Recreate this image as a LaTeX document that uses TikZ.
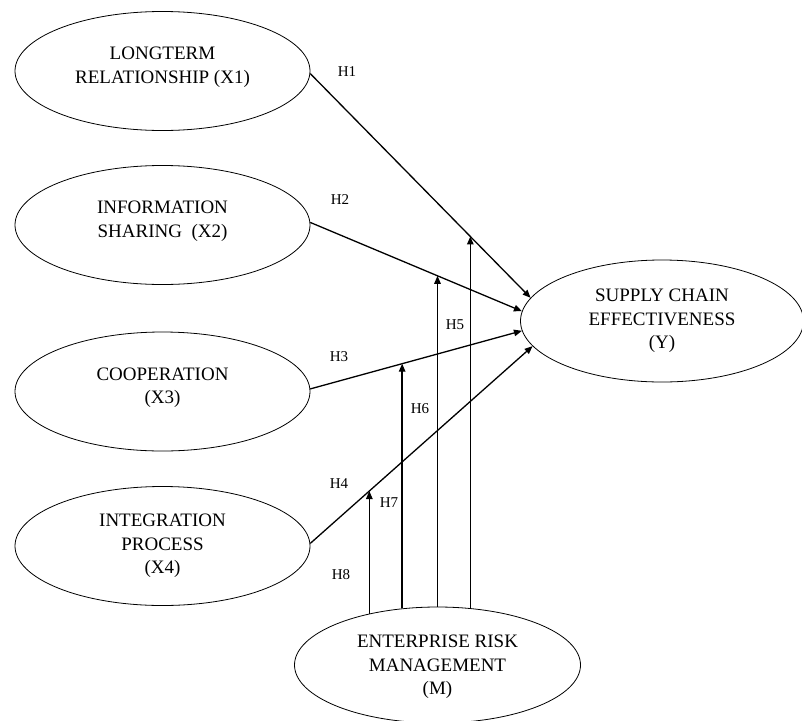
\documentclass[tikz,border=0pt]{standalone}
\usepackage{fontspec}
\setmainfont{Liberation Serif}
\usetikzlibrary{shapes.geometric,arrows.meta,intersections}
\begin{document}
\begin{tikzpicture}[x=1pt,y=-1pt,
  latent/.style={draw, ellipse, line width=0.8pt, inner sep=0pt, align=center,
    font=\fontsize{19}{23.5}\selectfont, minimum width=295pt, minimum height=119pt},
  twoline/.style={text depth=12pt},
  arr/.style={line width=1.3pt, -{Triangle[length=8pt,width=6.5pt]}},
  hyp/.style={font=\fontsize{15}{18}\selectfont, inner sep=1pt}]
\useasboundingbox (0,0) rectangle (802,720);
\node[latent, twoline] (X1) at (162.5,71) {LONGTERM\\RELATIONSHIP (X1)};
\node[latent, twoline] (X2) at (162.5,225) {INFORMATION\\SHARING~~(X2)};
\node[latent, twoline] (X3) at (162.5,391.5) {COOPERATION\\(X3)};
\node[latent] (X4) at (162.5,546) {INTEGRATION\\PROCESS\\(X4)};
\node[latent, minimum width=283pt, minimum height=122pt] (Y) at (662,321) {SUPPLY CHAIN\\EFFECTIVENESS\\(Y)};
\node[latent, minimum width=286pt, minimum height=116pt, text depth=0pt] (M) at (437.5,665) {ENTERPRISE RISK\\MANAGEMENT\\(M)};

\draw[arr, name path=l1] (X1.-1.5) -- (Y.170);
\draw[arr, name path=l2] (X2.1) -- (Y.176.7);
\draw[arr, name path=l3] (X3.1) -- (Y.184.6);
\draw[arr, name path=l4] (X4.1.2) -- (Y.191.3);

\path[name path=v5] (M.60.5) -- ++(0,-500);
\path[name path=v6] (M.90) -- ++(0,-500);
\path[name path=v7] (M.122) -- ++(0,-500);
\path[name path=v8] (M.143.3) -- ++(0,-500);
\path[name intersections={of=v5 and l1, by=h5}];
\path[name intersections={of=v6 and l2, by=h6}];
\path[name intersections={of=v7 and l3, by=h7}];
\path[name intersections={of=v8 and l4, by=h8}];
\draw[arr] (M.60.5) -- (h5);
\draw[arr] (M.90) -- (h6);
\draw[arr] (M.122) -- (h7);
\draw[arr] (M.143.3) -- (h8);

\node[hyp] (H1) at (347,72) {H1};
\node[hyp] (H2) at (340,200) {H2};
\node[hyp] (H3) at (339,357) {H3};
\node[hyp] (H4) at (339,484) {H4};
\node[hyp] (H5) at (455,325) {H5};
\node[hyp] (H6) at (420,409) {H6};
\node[hyp] (H7) at (389,503) {H7};
\node[hyp] (H8) at (341,575) {H8};
\end{tikzpicture}
\end{document}
